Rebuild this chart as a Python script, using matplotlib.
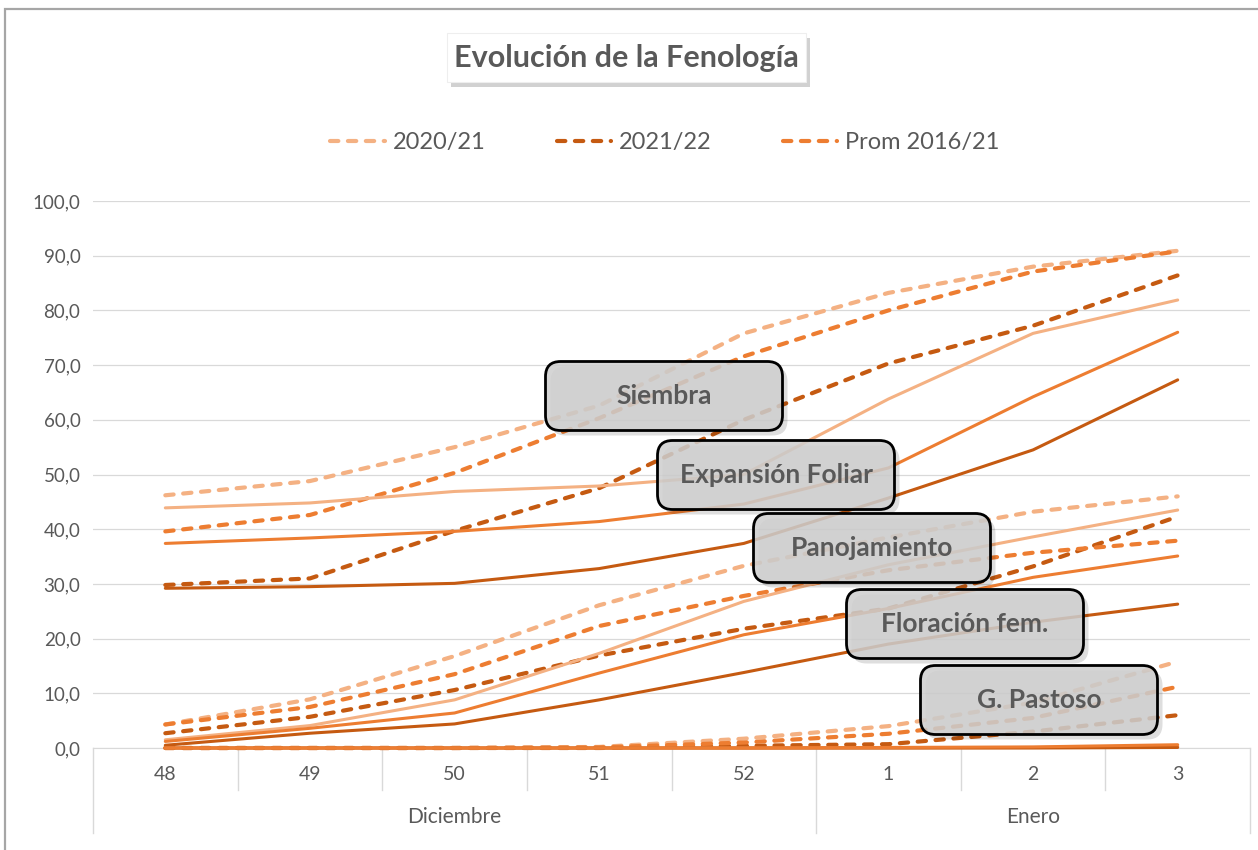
import numpy as np
import matplotlib
matplotlib.use('Agg')
import matplotlib.pyplot as plt
from matplotlib.patches import FancyBboxPatch, Rectangle
from matplotlib.lines import Line2D

plt.rcParams['font.family'] = ['Lato', 'DejaVu Sans']

# semanas y meses
semanas = ['48', '49', '50', '51', '52', '1', '2', '3']
meses = ['Diciembre', 'Enero']
semanas_por_mes = [5, 3]

campanias = ['2020/21', '2021/22', 'Prom 2016/21']
colores = ['#F4B183', '#C55A11', '#ED7D31']

# Siembra (punteada)
siembra_2021 = [46.2, 48.8, 55.0, 62.6, 75.8, 83.2, 88.0, 90.9]
siembra_2122 = [29.8, 31.0, 39.7, 47.5, 60.0, 70.3, 77.2, 86.4]
siembra_prom = [39.6, 42.6, 50.3, 60.3, 71.6, 80.0, 87.1, 90.8]

# Expansion foliar (continua)
expfol_2021 = [43.9, 44.8, 46.9, 47.9, 50.0, 63.8, 75.8, 81.9]
expfol_2122 = [29.2, 29.5, 30.1, 32.8, 37.4, 45.7, 54.5, 67.3]
expfol_prom = [37.4, 38.4, 39.6, 41.4, 44.6, 51.2, 64.2, 76.0]

# Panojamiento (punteada)
panoj_2021 = [4.3, 8.9, 16.8, 26.1, 33.3, 38.5, 43.2, 46.0]
panoj_2122 = [2.7, 5.7, 10.6, 16.9, 21.8, 25.5, 33.2, 42.3]
panoj_prom = [4.3, 7.5, 13.5, 22.3, 27.8, 32.5, 35.7, 37.9]

# Floracion femenina (continua)
flor_2021 = [1.5, 4.1, 8.8, 17.3, 26.8, 33.5, 38.6, 43.5]
flor_2122 = [0.5, 2.7, 4.4, 8.8, 13.8, 19.0, 23.0, 26.3]
flor_prom = [1.2, 3.6, 6.4, 13.7, 20.7, 25.5, 31.2, 35.1]

# Grano pastoso (punteada)
gpast_2021 = [0.0, 0.0, 0.0, 0.2, 1.7, 4.0, 8.3, 15.8]
gpast_2122 = [0.0, 0.0, 0.0, 0.0, 0.4, 0.7, 3.0, 6.0]
gpast_prom = [0.0, 0.0, 0.0, 0.1, 1.0, 2.6, 5.5, 11.2]

# ultima etapa (continua, casi en cero)
ult_2021 = [0.0, 0.0, 0.0, 0.0, 0.0, 0.0, 0.1, 0.3]
ult_2122 = [0.0, 0.0, 0.0, 0.0, 0.0, 0.0, 0.0, 0.1]
ult_prom = [0.0, 0.0, 0.0, 0.0, 0.0, 0.1, 0.2, 0.6]

etiquetas = ['Siembra', 'Expansión Foliar', 'Panojamiento', 'Floración fem.', 'G. Pastoso']
# centro de cada cuadro en pixeles (x, y desde arriba)
cuadros_px = [(664, 396), (776, 475), (872, 548), (965, 624), (1039, 700)]

W, H = 1258, 850
gris = '#595959'
grid = '#D9D9D9'

fig = plt.figure(figsize=(W / 100, H / 100), dpi=100)

# borde del grafico
fig.patches.append(Rectangle((5 / W, -0.1), 1.2, 1 - 9 / H + 0.1, transform=fig.transFigure,
                             fill=False, edgecolor='#A6A6A6', linewidth=1.6))

ax = fig.add_axes([93 / W, 1 - 748 / H, 1157 / W, 547 / H])
x = np.arange(len(semanas))

ax.set_xlim(-0.5, 7.5)
ax.set_ylim(0, 100)
ax.set_yticks(np.arange(0, 101, 10))
ax.set_yticklabels([f'{v:.1f}'.replace('.', ',') for v in np.arange(0, 101, 10)],
                   fontsize=13.5, color=gris)
ax.tick_params(axis='y', length=0, pad=9)
ax.tick_params(axis='x', length=0, labelbottom=False)
ax.grid(axis='y', color=grid, linewidth=0.9)
ax.set_axisbelow(True)
for s in ['top', 'right', 'left']:
    ax.spines[s].set_visible(False)
ax.spines['bottom'].set_color(grid)

punteadas = [
    (siembra_2021, siembra_2122, siembra_prom),
    (panoj_2021, panoj_2122, panoj_prom),
    (gpast_2021, gpast_2122, gpast_prom),
]
continuas = [
    (expfol_2021, expfol_2122, expfol_prom),
    (flor_2021, flor_2122, flor_prom),
    (ult_2021, ult_2122, ult_prom),
]

handles = []
for k, grupo in enumerate(punteadas):
    for serie, c in zip(grupo, colores):
        l, = ax.plot(x, serie, color=c, linewidth=3.0, dashes=(2.0, 2.3),
                     dash_capstyle='round', clip_on=False, zorder=3)
        if k == 0:
            handles.append(l)
for grupo in continuas:
    for serie, c in zip(grupo, colores):
        ax.plot(x, serie, color=c, linewidth=2.2, solid_capstyle='round',
                clip_on=False, zorder=3)

# eje de categorias en dos niveles
trans = ax.get_xaxis_transform()
for i, s in enumerate(semanas):
    ax.text(i, -27 / 547, s, transform=trans, ha='center', va='center',
            fontsize=14, color=gris)
bordes = np.cumsum([0] + semanas_por_mes) - 0.5
for xb in np.arange(-0.5, 8.0, 1.0):
    largo = 85 if xb in bordes else 42
    ax.add_line(Line2D([xb, xb], [0, -largo / 547], transform=trans, color=grid,
                       linewidth=1.0, clip_on=False))
for j, m in enumerate(meses):
    xc = (bordes[j] + bordes[j + 1]) / 2
    ax.text(xc, -69 / 547, m, transform=trans, ha='center', va='center',
            fontsize=15, color=gris)

# titulo con caja y sombra
tx0, ty0, tw, th = 447, 33, 359, 49
fig.patches.append(Rectangle(((tx0 + 4) / W, 1 - (ty0 + th + 5) / H), tw / W, th / H,
                             transform=fig.transFigure, facecolor='#000000', alpha=0.18,
                             edgecolor='none'))
fig.patches.append(Rectangle((tx0 / W, 1 - (ty0 + th) / H), tw / W, th / H,
                             transform=fig.transFigure, facecolor='white', edgecolor='#EEEEEE',
                             linewidth=0.8))
fig.text((tx0 + tw / 2) / W, 1 - (ty0 + th / 2 + 1) / H, 'Evolución de la Fenología',
         ha='center', va='center', fontsize=22, fontweight='bold', color=gris)

# leyenda
fig.legend(handles, campanias, loc='center', bbox_to_anchor=(665 / W, 1 - 143 / H),
           ncol=3, frameon=False, fontsize=17, labelcolor=gris, handlelength=2.3,
           handletextpad=0.35, columnspacing=3.0)

# cuadros de etapas
bw, bh = 237, 69
for txt, (cx, cy) in zip(etiquetas, cuadros_px):
    sh = FancyBboxPatch(((cx - bw / 2 + 5) / W, 1 - (cy + bh / 2 + 5) / H), bw / W, bh / H,
                        boxstyle='round,pad=0,rounding_size=0.012', transform=fig.transFigure,
                        facecolor='#000000', alpha=0.13, edgecolor='none', zorder=5,
                        mutation_aspect=W / H)
    fig.patches.append(sh)
    bx = FancyBboxPatch(((cx - bw / 2) / W, 1 - (cy + bh / 2) / H), bw / W, bh / H,
                        boxstyle='round,pad=0,rounding_size=0.012', transform=fig.transFigure,
                        facecolor=(0.81, 0.81, 0.81, 0.86), edgecolor='black',
                        linewidth=2.0, zorder=6, mutation_aspect=W / H)
    fig.patches.append(bx)
    fig.text(cx / W, 1 - cy / H, txt, ha='center', va='center', fontsize=19,
             fontweight='bold', color=gris, zorder=7)

fig.savefig('out.png', dpi=100)
